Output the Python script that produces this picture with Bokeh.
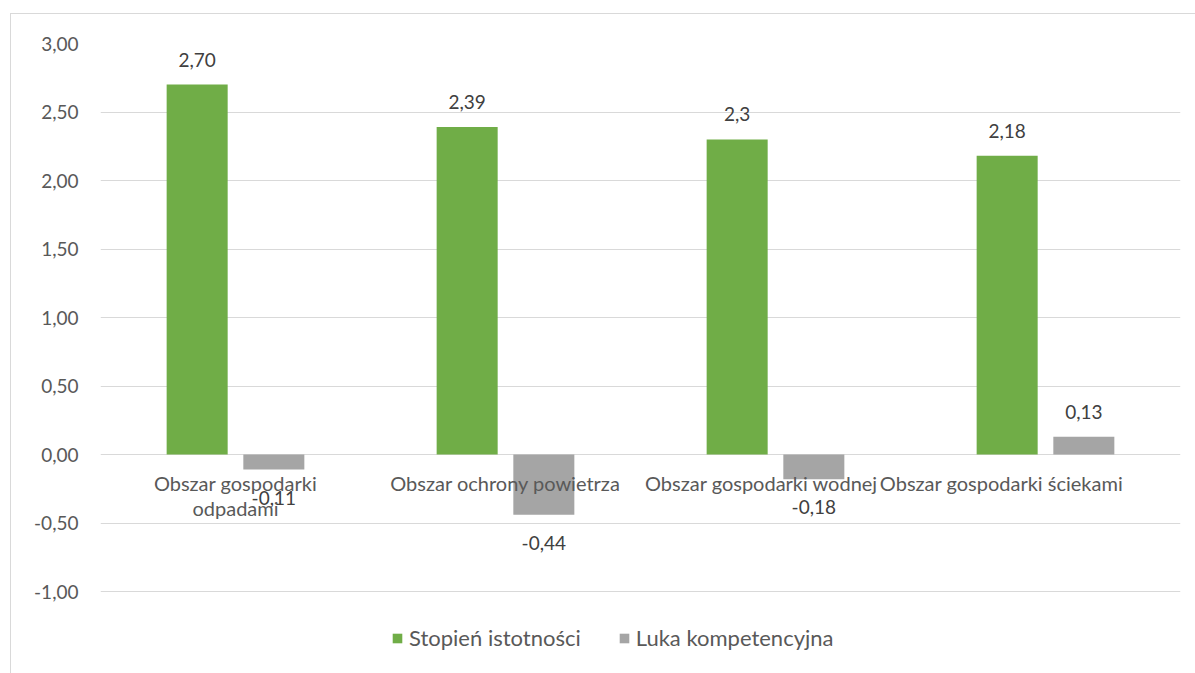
from bokeh.plotting import figure
from bokeh.models import (ColumnDataSource, FactorRange, Range1d, FixedTicker,
                          Legend, LegendItem, CustomJSTickFormatter)
from bokeh.transform import dodge
from bokeh.core.properties import value
from bokeh.embed import file_html
from bokeh.resources import INLINE

# ---- data ----
categories = ["Obszar gospodarki odpadami", "Obszar ochrony powietrza",
              "Obszar gospodarki wodnej", "Obszar gospodarki ściekami"]
cat_labels = ["Obszar gospodarki\nodpadami", "Obszar ochrony powietrza",
              "Obszar gospodarki wodnej", "Obszar gospodarki ściekami"]
series_names = ["Stopień istotności", "Luka kompetencyjna"]
stopien = [2.70, 2.39, 2.30, 2.18]
luka = [-0.11, -0.44, -0.18, 0.13]
stopien_labels = ["2,70", "2,39", "2,3", "2,18"]
luka_labels = ["-0,11", "-0,44", "-0,18", "0,13"]
y_ticks = [-1.0, -0.5, 0.0, 0.5, 1.0, 1.5, 2.0, 2.5, 3.0]
y_tick_labels = ["-1,00", "-0,50", "0,00", "0,50", "1,00", "1,50", "2,00", "2,50", "3,00"]

# ---- style / layout ----
GREEN = "#70AD47"
GRAY = "#A5A5A5"
AXIS_TXT = "#595959"
LABEL_TXT = "#404040"
FONT = "Lato"
FS_NUM = "19px"
FS_CAT = "20px"
FS_LEG = "22px"
cat_label_dx = [0, 0, -14, -44]   # Excel-like shifting of crowded labels

W, H = 1185, 660
ML, MR, MT = 89, 16, 29
frame_h = H - MT
px_per_unit = 137.0
y_top = 3.0
y_bottom = y_top - frame_h / px_per_unit

p = figure(width=W, height=H, output_backend="svg", toolbar_location=None,
           x_range=FactorRange(factors=categories, range_padding=0),
           y_range=Range1d(y_bottom, y_top),
           x_axis_location=None,
           min_border_left=ML, min_border_right=MR, min_border_top=MT,
           min_border_bottom=0)
p.margin = (13, 0, 0, 10)
p.styles = {"border-left": "1px solid #d9d9d9", "border-top": "1px solid #d9d9d9"}
p.outline_line_color = None
p.background_fill_color = "white"
p.border_fill_color = "white"

src = ColumnDataSource(dict(
    cat=categories, cat_label=cat_labels, stopien=stopien, luka=luka,
    s_lab=stopien_labels, l_lab=luka_labels,
    s_off=[-25 if v >= 0 else 28 for v in stopien],
    l_off=[-25 if v >= 0 else 28 for v in luka],
    dx=cat_label_dx,
))

BW = 0.226
OFF = 0.142
r1 = p.vbar(x=dodge("cat", -OFF, range=p.x_range), top="stopien", bottom=0,
            width=BW, source=src, fill_color=GREEN, line_color=None)
r2 = p.vbar(x=dodge("cat", OFF, range=p.x_range), top="luka", bottom=0,
            width=BW, source=src, fill_color=GRAY, line_color=None)

# data labels
p.text(x=dodge("cat", -OFF, range=p.x_range), y="stopien", text="s_lab",
       y_offset="s_off", source=src, text_align="center",
       text_baseline="alphabetic", text_font=value(FONT),
       text_font_size=FS_NUM, text_color=LABEL_TXT)
p.text(x=dodge("cat", OFF, range=p.x_range), y="luka", text="l_lab",
       y_offset="l_off", source=src, text_align="center",
       text_baseline="alphabetic", text_font=value(FONT),
       text_font_size=FS_NUM, text_color=LABEL_TXT)

# category labels just below the zero line
p.text(x="cat", y=0, text="cat_label", x_offset="dx", y_offset=16, source=src,
       text_align="center", text_baseline="top", text_font=value(FONT),
       text_font_size=FS_CAT, text_color=AXIS_TXT, text_line_height=1.05)

# y axis
ax = p.yaxis[0]
ax.ticker = FixedTicker(ticks=y_ticks)
ax.formatter = CustomJSTickFormatter(
    args=dict(tvals=y_ticks, tlabs=y_tick_labels),
    code="""
    for (let i = 0; i < tvals.length; i++) {
        if (Math.abs(tvals[i] - tick) < 1e-9) return tlabs[i];
    }
    return '';
    """)
ax.axis_line_color = None
ax.major_tick_line_color = None
ax.minor_tick_line_color = None
ax.major_label_standoff = 16
ax.major_label_text_font = FONT
ax.major_label_text_font_size = FS_NUM
ax.major_label_text_color = AXIS_TXT

p.xgrid.grid_line_color = None
p.ygrid.grid_line_color = "#d9d9d9"
p.ygrid.grid_line_width = 1
p.ygrid.ticker = FixedTicker(ticks=y_ticks)

legend = Legend(items=[LegendItem(label=series_names[0], renderers=[r1]),
                       LegendItem(label=series_names[1], renderers=[r2])],
                orientation="horizontal", location=(291, 23),
                glyph_width=12, glyph_height=12, label_standoff=6,
                spacing=37, padding=0, margin=0,
                label_text_font=FONT, label_text_font_size=FS_LEG,
                label_text_color=AXIS_TXT,
                border_line_color=None, background_fill_alpha=0)
p.add_layout(legend)

open("out.html", "w").write(file_html(p, INLINE))
